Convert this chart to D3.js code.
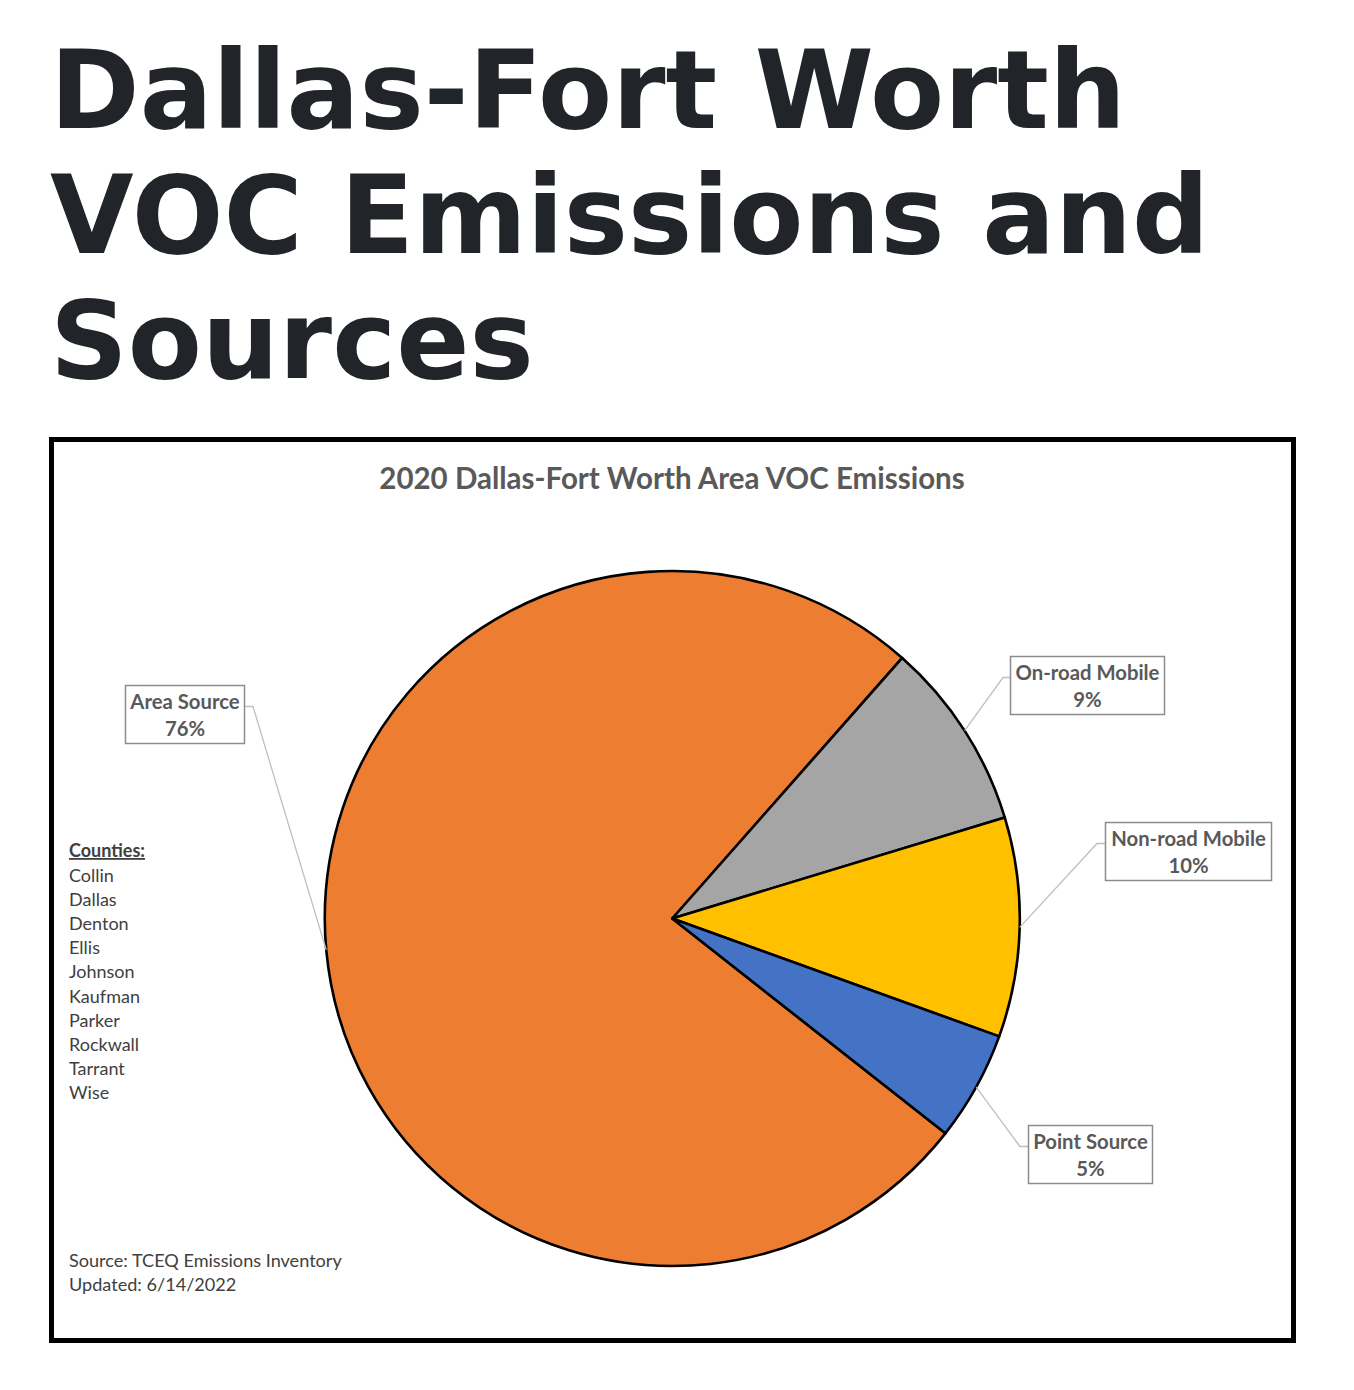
<!DOCTYPE html>
<html>
<head>
<meta charset="utf-8">
<script src="https://cdn.jsdelivr.net/npm/d3@7"></script>
<style>
  html, body { margin: 0; padding: 0; background: #ffffff; }
  svg { display: block; }
</style>
</head>
<body>
<div id="chart"></div>
<script>
// ---------- data ----------
const pageTitleLines = ["Dallas-Fort Worth", "VOC Emissions and", "Sources"];
const chartTitle = "2020 Dallas-Fort Worth Area VOC Emissions";
const categories = ["Area Source", "On-road Mobile", "Non-road Mobile", "Point Source"];
const shares = [75.9, 8.8, 10.2, 5.1];            // percent of total VOC emissions
const countiesHeading = "Counties:";
const counties = ["Collin", "Dallas", "Denton", "Ellis", "Johnson", "Kaufman", "Parker", "Rockwall", "Tarrant", "Wise"];
const footnotes = ["Source: TCEQ Emissions Inventory", "Updated: 6/14/2022"];

// ---------- styling / layout ----------
const W = 1354, H = 1390;
const sliceColors = ["#ED7D31", "#A5A5A5", "#FFC000", "#4472C4"];
const firstSliceAngleDeg = 128.19;
const pieCenter = { x: 672.3, y: 918.5 };
const pieRadius = 347.5;
// data-label box layout (annotation positions)
const labelLayout = [
  { x: 125, y: 685, w: 119, h: 58, side: "right", elbowDx: 9 },
  { x: 1010, y: 656, w: 154, h: 58, side: "left", elbowDx: -7 },
  { x: 1105, y: 822, w: 166, h: 58, side: "left", elbowDx: -8 },
  { x: 1028, y: 1125, w: 124, h: 58, side: "left", elbowDx: -8 }
];

const svg = d3.select("#chart").append("svg")
  .attr("width", W).attr("height", H)
  .attr("viewBox", `0 0 ${W} ${H}`);

svg.append("rect").attr("width", W).attr("height", H).attr("fill", "#fff");

// page title
const tt = svg.append("text")
  .attr("font-family", "'DejaVu Sans', sans-serif")
  .attr("font-weight", "bold")
  .attr("font-size", 108)
  .attr("fill", "#212529");
pageTitleLines.forEach((line, i) => {
  tt.append("tspan").attr("x", 50).attr("y", 128 + i * 125).text(line);
});

// chart frame
svg.append("rect")
  .attr("x", 51.5).attr("y", 439.5)
  .attr("width", 1242).attr("height", 901)
  .attr("fill", "#fff")
  .attr("stroke", "#000").attr("stroke-width", 5);

// chart title
svg.append("text")
  .attr("x", 672).attr("y", 489)
  .attr("text-anchor", "middle")
  .attr("font-family", "Lato, 'Open Sans', sans-serif")
  .attr("font-weight", "bold")
  .attr("font-size", 29.5)
  .attr("fill", "#595959")
  .text(chartTitle);

// pie
const data = categories.map((c, i) => ({ cat: c, value: shares[i], color: sliceColors[i], layout: labelLayout[i] }));
const start = firstSliceAngleDeg * Math.PI / 180;
const pie = d3.pie().value(d => d.value).sort(null)
  .startAngle(start).endAngle(start + 2 * Math.PI);
const arcs = pie(data);
const arc = d3.arc().innerRadius(0).outerRadius(pieRadius);
const rimArc = d3.arc().innerRadius(pieRadius).outerRadius(pieRadius);

const g = svg.append("g").attr("transform", `translate(${pieCenter.x},${pieCenter.y})`);
g.selectAll("path.slice").data(arcs).join("path")
  .attr("class", "slice")
  .attr("d", arc)
  .attr("fill", d => d.data.color)
  .attr("stroke", "#000")
  .attr("stroke-width", 2.6)
  .attr("stroke-linejoin", "round");

// leader lines
const fmt = v => Math.round(v) + "%";
arcs.forEach(a => {
  const L = a.data.layout;
  const [cx, cy] = rimArc.centroid(a);
  const px = pieCenter.x + cx, py = pieCenter.y + cy;
  const boxEdgeX = L.side === "right" ? L.x + L.w : L.x;
  const ey = L.y + 21.5;
  const ex = boxEdgeX + L.elbowDx;
  svg.append("polyline")
    .attr("points", `${px},${py} ${ex},${ey} ${boxEdgeX},${ey}`)
    .attr("fill", "none")
    .attr("stroke", "#BFBFBF")
    .attr("stroke-width", 1.3);
});

// label boxes
arcs.forEach(a => {
  const L = a.data.layout;
  svg.append("rect")
    .attr("x", L.x + 0.5).attr("y", L.y + 0.5)
    .attr("width", L.w).attr("height", L.h)
    .attr("fill", "#fff")
    .attr("stroke", "#8C8C8C").attr("stroke-width", 1.5);
  const t = svg.append("text")
    .attr("text-anchor", "middle")
    .attr("font-family", "Lato, 'Open Sans', sans-serif")
    .attr("font-weight", "bold")
    .attr("font-size", 20.3)
    .attr("fill", "#595959");
  t.append("tspan").attr("x", L.x + L.w / 2 + 0.5).attr("y", L.y + 24).text(a.data.cat);
  t.append("tspan").attr("x", L.x + L.w / 2 + 0.5).attr("y", L.y + 51).text(fmt(a.data.value));
});

// counties list
const ct = svg.append("text")
  .attr("font-family", "Lato, 'Open Sans', sans-serif")
  .attr("font-size", 18)
  .attr("fill", "#404040");
ct.append("tspan").attr("x", 69).attr("y", 857)
  .attr("font-weight", "bold").attr("text-decoration", "underline")
  .text(countiesHeading);
counties.forEach((c, i) => {
  ct.append("tspan").attr("x", 69).attr("y", 881.5 + i * 24.2).text(c);
});

// footnotes
const ft = svg.append("text")
  .attr("font-family", "Lato, 'Open Sans', sans-serif")
  .attr("font-size", 18.1)
  .attr("fill", "#404040");
footnotes.forEach((f, i) => {
  ft.append("tspan").attr("x", 69).attr("y", 1267 + i * 24).text(f);
});
</script>
</body>
</html>
